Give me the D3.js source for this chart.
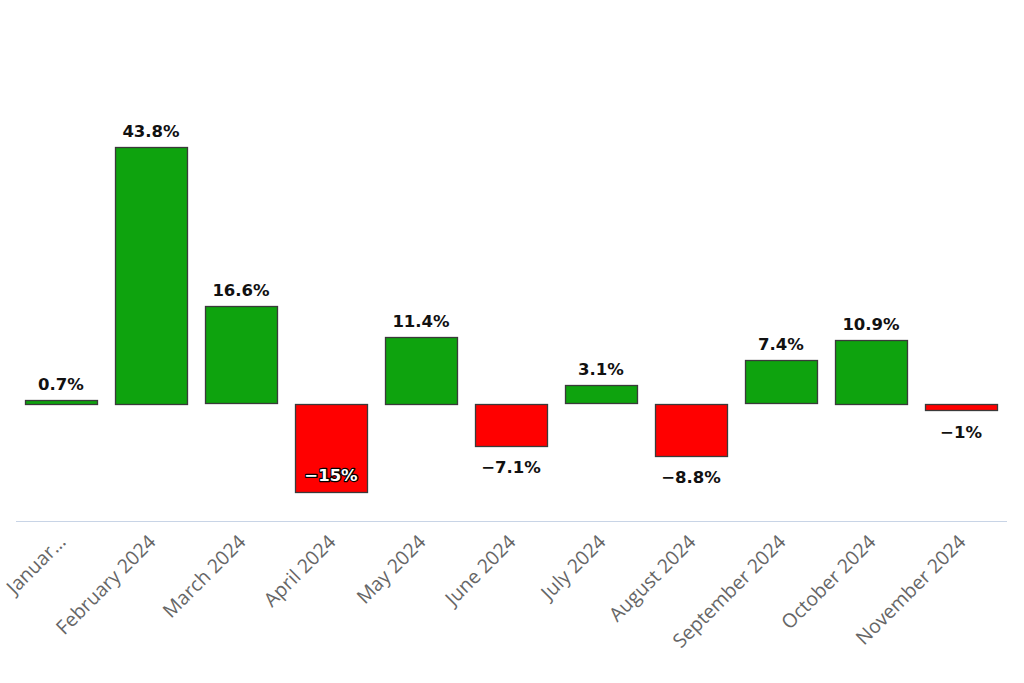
<!DOCTYPE html>
<html><head><meta charset="utf-8">
<script src="https://cdn.jsdelivr.net/npm/d3@7"></script>
<style>body{margin:0;background:#fff}svg{display:block}</style>
</head><body>
<script>
const categories = ["Januar…","February 2024","March 2024","April 2024","May 2024","June 2024","July 2024","August 2024","September 2024","October 2024","November 2024"];
const values = [0.7,43.8,16.6,-15,11.4,-7.1,3.1,-8.8,7.4,10.9,-1];
const labels = ["0.7%","43.8%","16.6%","−15%","11.4%","−7.1%","3.1%","−8.8%","7.4%","10.9%","−1%"];

const W=1024,H=683;
const svg=d3.select("body").append("svg").attr("width",W).attr("height",H);
const x=d3.scaleBand().domain(categories).range([16,1006]).paddingInner(0.2).paddingOuter(0.1);
const y=d3.scaleLinear().domain([-20,50]).range([521,110.3]);

// axis line
svg.append("line").attr("x1",16).attr("x2",1007).attr("y1",521.5).attr("y2",521.5).attr("stroke","#c8d4e6");

const g=svg.append("g");
g.selectAll("rect").data(values).join("rect")
 .attr("x",(d,i)=>x(categories[i])+0.5)
 .attr("width",x.bandwidth())
 .attr("y",d=>Math.round(y(Math.max(0,d)))+0.5)
 .attr("height",d=>Math.max(1,Math.round(Math.abs(y(d)-y(0)))))
 .attr("fill",d=>d>=0?"#0ea30e":"#ff0000")
 .attr("stroke","#3a3a3a").attr("stroke-width",1.3);

// data labels
values.forEach((d,i)=>{
  const cx=x(categories[i])+x.bandwidth()/2;
  const h=Math.abs(y(d)-y(0));
  let ty, inside=false;
  if(d>=0){ ty=y(d)-10; }
  else if(h>80){ inside=true; ty=y(d)-11; }
  else { ty=y(d)+28; }
  const t=svg.append("text").attr("x",cx).attr("y",ty).attr("text-anchor","middle")
   .attr("font-family","'DejaVu Sans',Verdana,sans-serif").attr("font-weight","bold").attr("font-size",16.5)
   .text(labels[i]);
  if(inside){
    t.attr("fill","#fff").attr("stroke","#000").attr("stroke-width",2.5).attr("paint-order","stroke").attr("stroke-linejoin","round");
  } else {
    t.attr("fill","#111").attr("stroke","#fff").attr("stroke-width",2).attr("paint-order","stroke").attr("stroke-linejoin","round");
  }
});

// category labels
categories.forEach((c,i)=>{
  const cx=x(c)+x.bandwidth()/2+6;
  svg.append("text").attr("transform",`translate(${cx},543) rotate(-45)`)
   .attr("text-anchor","end").attr("font-family","'Open Sans',sans-serif").attr("font-size",19.5)
   .attr("fill","#666").text(c);
});
</script>
</body></html>
